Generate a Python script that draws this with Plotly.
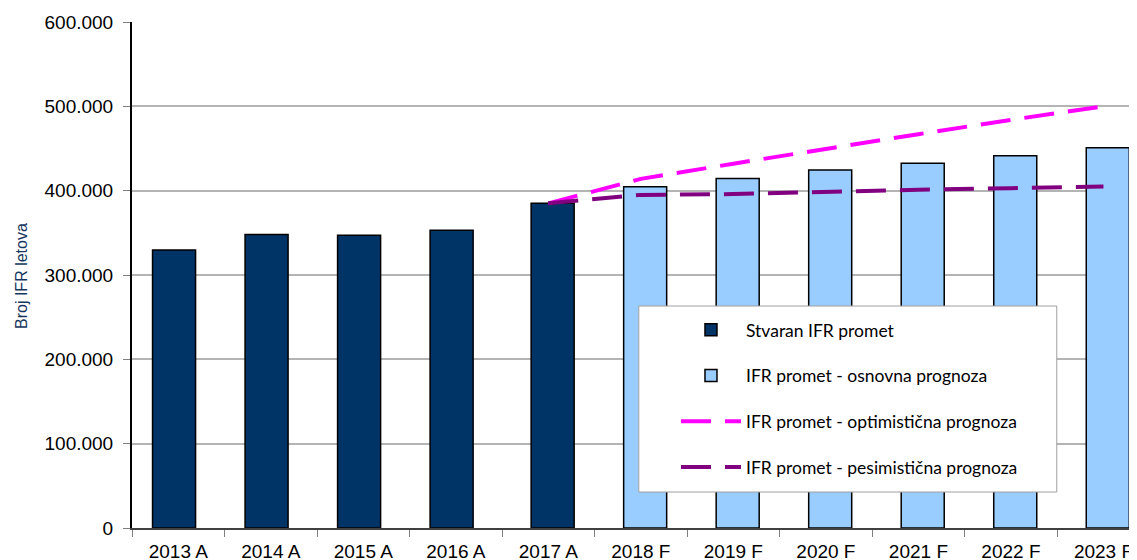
import plotly.graph_objects as go

categories = ["2013 A", "2014 A", "2015 A", "2016 A", "2017 A", "2018 F",
              "2019 F", "2020 F", "2021 F", "2022 F", "2023 F"]

actual_years = ["2013 A", "2014 A", "2015 A", "2016 A"]
actual_values = [329500, 348000, 347000, 353000]
actual_last_year = ["2017 A"]
actual_last_value = [385000]

forecast_years = ["2018 F", "2019 F", "2020 F", "2021 F", "2022 F", "2023 F"]
forecast_values = [404500, 414500, 424500, 432500, 441500, 451000]

line_years = ["2017 A", "2018 F", "2019 F", "2020 F", "2021 F", "2022 F", "2023 F"]
optimistic_values = [385000, 414000, 432000, 450000, 467000, 484000, 500000]
pessimistic_values = [385000, 395000, 396000, 399000, 401000, 403000, 405000]

y_ticks = [0, 100000, 200000, 300000, 400000, 500000, 600000]

DARK = "#003366"
LIGHT = "#99CCFF"
PINK = "#FF00FF"
PURPLE = "#800080"
BAR_W = 0.465
LEFT_OFF = -0.278
RIGHT_OFF = -0.186

fig = go.Figure()

fig.add_trace(go.Bar(
    x=actual_years, y=actual_values, name="Stvaran IFR promet",
    marker=dict(color=DARK, line=dict(color="black", width=1.5)),
    width=BAR_W, offset=LEFT_OFF, legendgroup="a",
))
fig.add_trace(go.Bar(
    x=actual_last_year, y=actual_last_value, name="Stvaran IFR promet",
    marker=dict(color=DARK, line=dict(color="black", width=1.5)),
    width=BAR_W, offset=RIGHT_OFF, legendgroup="a", showlegend=False,
))
fig.add_trace(go.Bar(
    x=forecast_years, y=forecast_values, name="IFR promet - osnovna prognoza",
    marker=dict(color=LIGHT, line=dict(color="black", width=1.5)),
    width=BAR_W, offset=RIGHT_OFF, legendgroup="b",
))
fig.add_trace(go.Scatter(
    x=line_years, y=optimistic_values, mode="lines",
    name="IFR promet - optimistična prognoza",
    line=dict(color=PINK, width=4, dash="30px,14px"), legendgroup="c",
))
fig.add_trace(go.Scatter(
    x=line_years, y=pessimistic_values, mode="lines",
    name="IFR promet - pesimistična prognoza",
    line=dict(color=PURPLE, width=4, dash="30px,14px"), legendgroup="d",
))

# page body has an 8px margin, so the figure is offset by 8px right/down
fig.update_layout(
    width=1137, height=560,
    margin=dict(l=124, r=0, t=14, b=40),
    plot_bgcolor="white", paper_bgcolor="white",
    separators=",.",
    barmode="overlay",
    font=dict(family="Liberation Sans, Arial, sans-serif", color="black"),
    showlegend=True,
    legend=dict(
        x=0.537, y=0.427, xanchor="left", yanchor="top",
        bgcolor="rgba(0,0,0,0)", borderwidth=0,
        font=dict(family="Lato, Open Sans, sans-serif", size=17.5, color="black"),
        itemwidth=60, tracegroupgap=20, traceorder="grouped",
    ),
    xaxis=dict(
        type="category", categoryorder="array", categoryarray=categories,
        range=[-0.5, 10.449], tickson="boundaries",
        ticks="outside", ticklen=7, tickcolor="#808080", tickwidth=1,
        showline=True, linecolor="#404040", linewidth=1.5,
        showgrid=False,
        tickfont=dict(size=19, family="Liberation Sans, Arial, sans-serif"),
        ticklabelstandoff=5,
    ),
    yaxis=dict(
        range=[0, 600000], tickvals=y_ticks, tickformat=",d",
        showgrid=True, gridcolor="#B4B4B4", gridwidth=1.5,
        zeroline=False,
        showline=True, linecolor="black", linewidth=2,
        ticks="outside", ticklen=7, tickcolor="#808080", tickwidth=1,
        tickfont=dict(size=19, family="Liberation Sans, Arial, sans-serif"),
        ticklabelstandoff=6,
    ),
    shapes=[dict(
        type="rect", xref="paper", yref="paper",
        x0=0.5003, x1=0.9129, y0=0.0711, y1=0.4387,
        line=dict(color="#A0A0A0", width=1), fillcolor="white", layer="above",
    )],
    annotations=[dict(
        text="Broj IFR letova", xref="paper", yref="paper",
        x=-0.1096, y=0.498, xanchor="center", yanchor="middle",
        textangle=-90, showarrow=False,
        font=dict(size=16, color="#17365D", family="Liberation Sans, Arial, sans-serif"),
    )],
)

fig.write_html("out.html")
